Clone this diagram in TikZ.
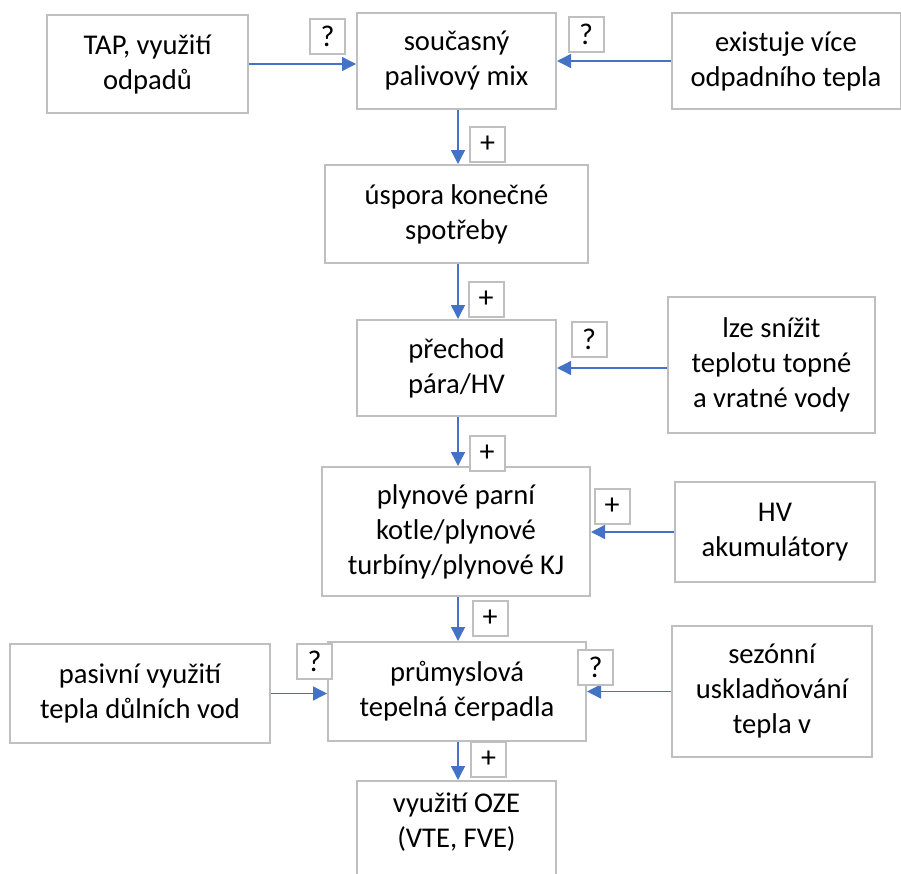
\documentclass[tikz,border=0pt]{standalone}
\usepackage{fontspec}
\setmainfont{Carlito}
\usetikzlibrary{arrows.meta}
\definecolor{boxgray}{HTML}{BFBFBF}
\definecolor{flowblue}{HTML}{4472C4}
\begin{document}
\begin{tikzpicture}[x=1pt,y=-1pt,
  blk/.style={draw=boxgray,line width=2pt,fill=white,inner sep=0pt,align=center,
    font=\fontsize{28.6}{35}\selectfont},
  tag/.style={draw=boxgray,line width=2pt,fill=white,inner sep=0pt,
    minimum width=35pt,minimum height=35pt,font=\fontsize{30}{34}\selectfont},
  flow/.style={draw=flowblue,line width=1.4pt,-{Triangle[length=14pt,width=14pt]}}]
\useasboundingbox (0,0) rectangle (901,873);
\clip (0,0) rectangle (901,873);

% main column
\node[blk,minimum width=199pt,minimum height=96pt] (mix) at (456.5,61) {současný\\palivový mix};
\node[blk,minimum width=263pt,minimum height=98pt] (save) at (456.5,214) {úspora konečné\\spotřeby};
\node[blk,minimum width=199pt,minimum height=96pt] (trans) at (456.5,368) {přechod\\pára/HV};
\node[blk,minimum width=268pt,minimum height=129pt] (gas) at (456,531.5) {plynové parní\\kotle/plynové\\turbíny/plynové KJ};
\node[blk,minimum width=258pt,minimum height=99pt] (hp) at (457,691.5) {průmyslová\\tepelná čerpadla};
\node[blk,minimum width=199pt,minimum height=120pt,anchor=north] (res) at (456.5,780) {};
\node[font=\fontsize{28.6}{35}\selectfont,align=center] (restext) at (456.5,822) {využití OZE\\(VTE, FVE)};

% side inputs
\node[blk,minimum width=201pt,minimum height=98pt] (tap) at (147.5,64) {TAP, využití\\odpadů};
\node[blk,minimum width=229pt,minimum height=96pt] (waste) at (786,61) {existuje více\\odpadního tepla};
\node[blk,minimum width=207pt,minimum height=136pt] (lower) at (771.5,365) {lze snížit\\teplotu topné\\a vratné vody};
\node[blk,minimum width=200pt,minimum height=100pt] (acc) at (775,532) {HV\\akumulátory};
\node[blk,minimum width=260pt,minimum height=99pt] (mine) at (140,693.5) {pasivní využití\\tepla důlních vod};
\node[blk,minimum width=200pt,minimum height=131pt] (season) at (772,691.5) {sezónní\\uskladňování\\tepla v};

% vertical axis of the flow arrows
\coordinate (axis) at (458,0);

% connectors
\draw[flow] (mix.south -| axis) -- (save.north -| axis);
\draw[flow] (save.south -| axis) -- (trans.north -| axis);
\draw[flow] (trans.south -| axis) -- (gas.north -| axis);
\draw[flow] (gas.south -| axis) -- (hp.north -| axis);
\draw[flow] (hp.south -| axis) -- (res.north -| axis);
\draw[flow] (tap.east) -- (tap.east -| mix.west);
\draw[flow] (waste.west) -- (mix.east);
\draw[flow] (lower.west |- trans.east) -- (trans.east);
\draw[flow] (acc.west) -- (acc.west -| gas.east);
\draw[flow] (mine.east) -- (mine.east -| hp.west);
\draw[flow] (season.west) -- (season.west -| hp.east);

% connector signs
\node[tag] (q1) at (327.5,36.5) {?};
\node[tag] (q2) at (586,34.5) {?};
\node[tag] (p1) at (487.5,144.5) {+};
\node[tag] (p2) at (486,299.5) {+};
\node[tag] (q3) at (589,339) {?};
\node[tag] (p3) at (487,453.5) {+};
\node[tag] (p4) at (612,506) {+};
\node[tag] (p5) at (490,618) {+};
\node[tag] (q4) at (314.5,661) {?};
\node[tag] (q5) at (595.5,667.5) {?};
\node[tag] (p6) at (488.5,759.5) {+};
\end{tikzpicture}
\end{document}
